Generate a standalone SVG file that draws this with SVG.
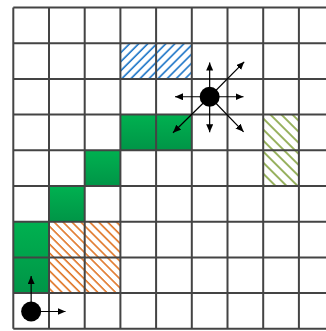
<svg xmlns="http://www.w3.org/2000/svg" width="326" height="331" viewBox="0 0 326 331">
  <style>
    .grid { stroke: #444; stroke-width: 2; fill: none; }
    .green { fill: url(#gGreen); }
    .conn { stroke: #000; stroke-width: 1.2; fill: none; marker-end: url(#arrow); }
    .dot { fill: #000; }
  </style>
  <defs>
    <linearGradient id="gGreen" x1="0" y1="0" x2="0" y2="1">
      <stop offset="0" stop-color="#00b150"/>
      <stop offset="1" stop-color="#009547"/>
    </linearGradient>
    <pattern id="hBlue" patternUnits="userSpaceOnUse" width="6.4" height="10" patternTransform="rotate(45)">
      <rect width="6.4" height="10" fill="#fff"/>
      <line x1="1" y1="0" x2="1" y2="10" stroke="#1f77c8" stroke-width="1.6"/>
    </pattern>
    <pattern id="hOrange" patternUnits="userSpaceOnUse" width="6.3" height="10" patternTransform="rotate(-45)">
      <rect width="6.3" height="10" fill="#fff"/>
      <line x1="1" y1="0" x2="1" y2="10" stroke="#e07424" stroke-width="1.6"/>
    </pattern>
    <pattern id="hOlive" patternUnits="userSpaceOnUse" width="7.8" height="10" patternTransform="rotate(-45)">
      <rect width="7.8" height="10" fill="#fff"/>
      <line x1="1" y1="0" x2="1" y2="10" stroke="#8fab50" stroke-width="1.8"/>
    </pattern>
    <marker id="arrow" markerUnits="userSpaceOnUse" markerWidth="9" markerHeight="8" refX="8" refY="3.5" orient="auto">
      <path d="M0,0 L8,3.5 L0,7 z" fill="#000"/>
    </marker>
  </defs>

  <rect width="326" height="331" fill="#fff"/>

  <g id="cells">
    <rect class="green" x="120.4" y="114.6" width="71.4" height="35.7"/>
    <rect class="green" x="84.7" y="150.3" width="35.7" height="35.7"/>
    <rect class="green" x="49" y="186" width="35.7" height="35.7"/>
    <rect class="green" x="13.3" y="221.7" width="35.7" height="71.4"/>
    <rect fill="url(#hBlue)" x="120.4" y="43.2" width="71.4" height="35.7"/>
    <rect fill="url(#hOrange)" x="49" y="221.7" width="71.4" height="71.4"/>
    <rect fill="url(#hOlive)" x="263.2" y="114.6" width="35.7" height="71.4"/>
  </g>

  <g id="grid">
    <path class="grid" d="M13.3,7.5V328.8 M49,7.5V328.8 M84.7,7.5V328.8 M120.4,7.5V328.8 M156.1,7.5V328.8 M191.8,7.5V328.8 M227.5,7.5V328.8 M263.2,7.5V328.8 M298.9,7.5V328.8
      M13.3,7.5H326 M13.3,43.2H326 M13.3,78.9H326 M13.3,114.6H326 M13.3,150.3H326 M13.3,186H326 M13.3,221.7H326 M13.3,257.4H326 M13.3,293.1H326 M13.3,328.8H326"/>
  </g>

  <g id="connectors">
    <line class="conn" x1="209.65" y1="96.75" x2="209.65" y2="62.5"/>
    <line class="conn" x1="209.65" y1="96.75" x2="209.65" y2="132.3"/>
    <line class="conn" x1="209.65" y1="96.75" x2="175" y2="96.75"/>
    <line class="conn" x1="209.65" y1="96.75" x2="243.5" y2="96.75"/>
    <line class="conn" x1="209.65" y1="96.75" x2="244.2" y2="61.8"/>
    <line class="conn" x1="209.65" y1="96.75" x2="243.6" y2="131.8"/>
    <line class="conn" x1="209.65" y1="96.75" x2="173" y2="132.8"/>
    <line class="conn" x1="31.15" y1="311.5" x2="31.15" y2="276"/>
    <line class="conn" x1="31.15" y1="311.5" x2="65.5" y2="311.5"/>
  </g>

  <g id="agent-top">
    <circle class="dot" cx="209.65" cy="96.75" r="10"/>
  </g>
  <g id="agent-bottom">
    <circle class="dot" cx="31.15" cy="311.5" r="10"/>
  </g>
</svg>
